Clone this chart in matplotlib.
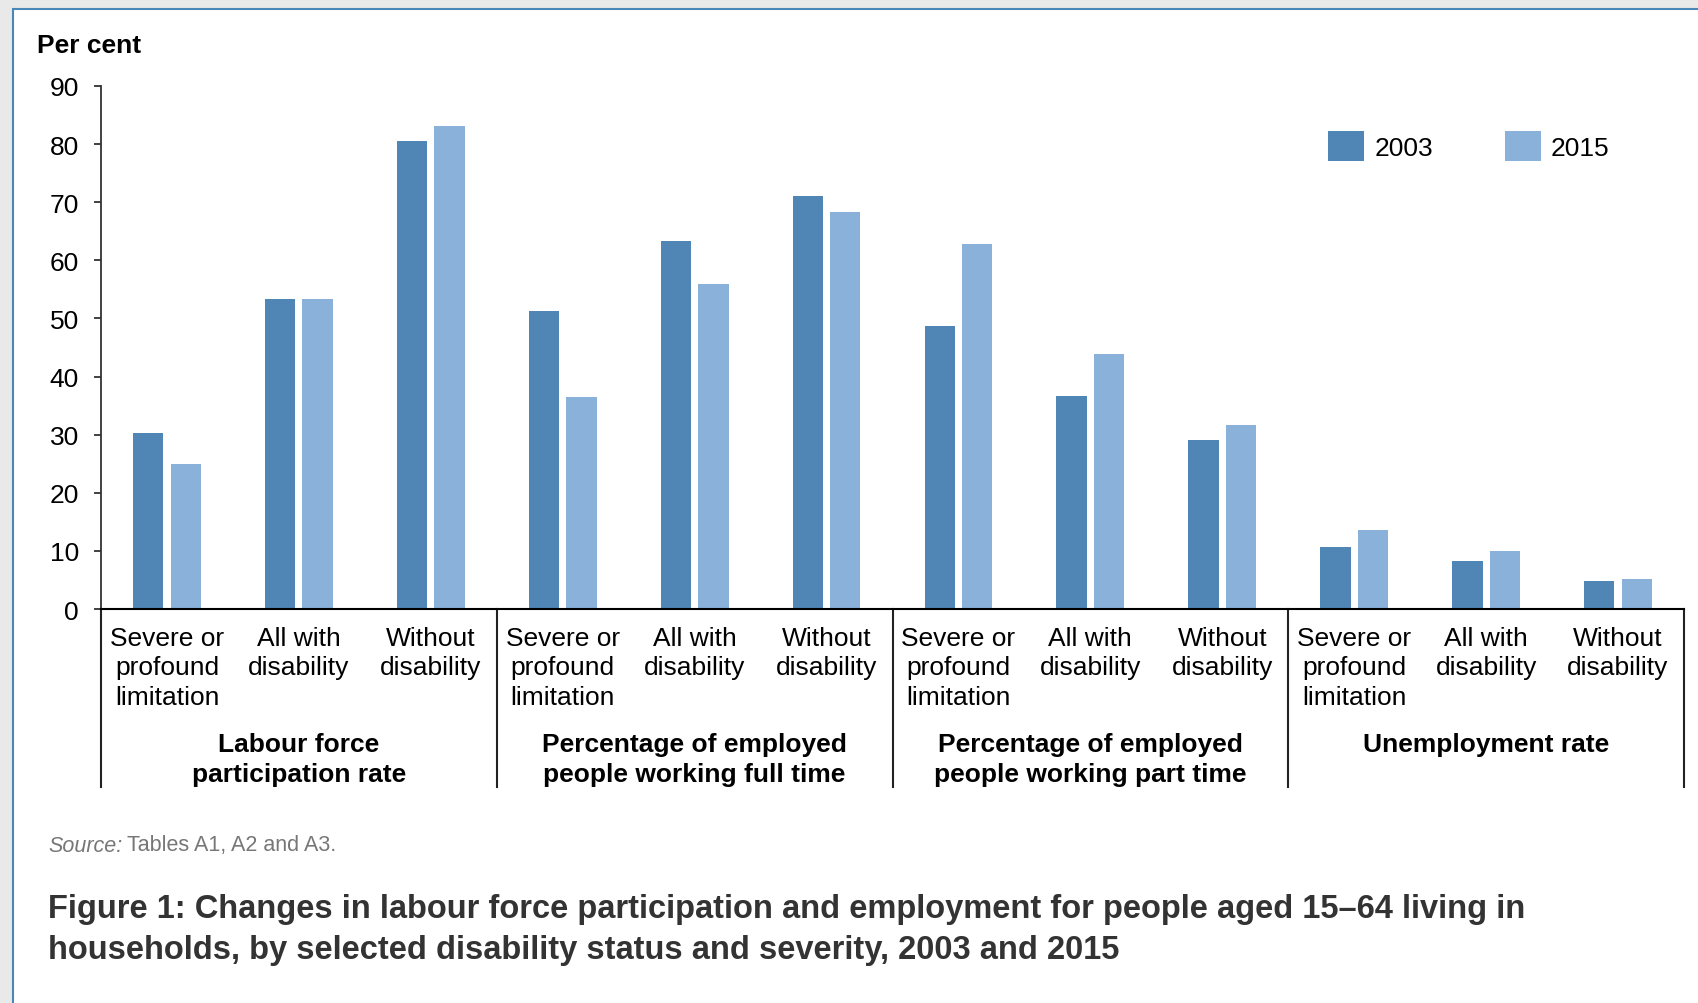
import numpy as np
import matplotlib
matplotlib.use('Agg')
import matplotlib.pyplot as plt
import matplotlib.patches as patches
import matplotlib.transforms as transforms

# -- data
categories = ['Severe or\nprofound\nlimitation', 'All with\ndisability', 'Without\ndisability']
groups = ['Labour force\nparticipation rate',
          'Percentage of employed\npeople working full time',
          'Percentage of employed\npeople working part time',
          'Unemployment rate']
years = ['2003', '2015']
vals_2003 = [30.3, 53.3, 80.6, 51.3, 63.3, 71.0, 48.7, 36.7, 29.0, 10.6, 8.3, 4.8]
vals_2015 = [25.0, 53.4, 83.2, 36.4, 55.9, 68.3, 62.8, 43.8, 31.7, 13.6, 9.9, 5.2]
yticks = np.arange(0, 100, 10)

col03 = '#4f86b6'
col15 = '#8ab1da'

plt.rcParams['font.family'] = ['Liberation Sans', 'DejaVu Sans']

W, H = 1698, 1004
fig = plt.figure(figsize=(W/100, H/100), dpi=100)
fig.patch.set_facecolor('#e9e9e9')

# page background with thin blue border (runs off the right and bottom edges)
page = patches.Rectangle((13/W, -0.1), 1.0, 1.1 - 10/H, transform=fig.transFigure,
                         facecolor='white', edgecolor='#4a86b8', lw=1.5, zorder=-10)
fig.patches.append(page)

ax = fig.add_axes([101/W, 1 - 610/H, (1684-101)/W, (610-87)/H])
ax.set_facecolor('none')

x = np.arange(len(vals_2003))
bw = 0.23
off = 0.142
ax.bar(x - off, vals_2003, width=bw, color=col03, label=years[0], zorder=2)
ax.bar(x + off, vals_2015, width=bw, color=col15, label=years[1], zorder=2)

ax.set_xlim(-0.5, len(x) - 0.5)
ax.set_ylim(0, 90)
ax.set_yticks(yticks)
ax.tick_params(axis='y', length=5, width=1.3, pad=11, labelsize=19, color='#333333')
ax.set_xticks(x)
ax.set_xticklabels(categories * len(groups), fontsize=19, linespacing=1.3)
ax.tick_params(axis='x', length=0, pad=12)

for s in ['top', 'right']:
    ax.spines[s].set_visible(False)
ax.spines['left'].set_linewidth(1.3)
ax.spines['bottom'].set_linewidth(1.5)
ax.spines['left'].set_color('#333333')

# group dividers hanging below the axis
trans = transforms.blended_transform_factory(ax.transData, ax.transAxes)
ybot = -(788 - 610) / (610 - 87)
for xb in np.arange(-0.5, len(x), 3):
    ax.plot([xb, xb], [0, ybot], color='#222222', lw=1.5, transform=trans, clip_on=False)

for i, g in enumerate(groups):
    ax.text(3*i + 1, -(733 - 610) / (610 - 87), g, transform=trans, ha='center', va='top',
            fontsize=19, fontweight='bold', linespacing=1.3)

ax.legend(loc='center', bbox_to_anchor=(1469/W, 1 - 147/H), bbox_transform=fig.transFigure,
          ncol=2, frameon=False, fontsize=19, handlelength=1.36, handleheight=1.36,
          handletextpad=0.4, columnspacing=2.7, borderpad=0)

fig.text(37/W, 1 - 46/H, 'Per cent', fontsize=19, fontweight='bold', va='center')

# source note and figure caption
fig.text(48/W, 1 - 846/H, 'Source:', fontsize=15.5, style='italic', color='#777777', va='center')
fig.text(127/W, 1 - 846/H, 'Tables A1, A2 and A3.', fontsize=15.5, color='#777777', va='center')
fig.text(48/W, 1 - 930/H,
         'Figure 1: Changes in labour force participation and employment for people aged 15\u201364 living in\n'
         'households, by selected disability status and severity, 2003 and 2015',
         fontsize=23.5, fontweight='bold', color='#333333', va='center', linespacing=1.45)

fig.savefig('out.png', dpi=100, facecolor=fig.get_facecolor())
